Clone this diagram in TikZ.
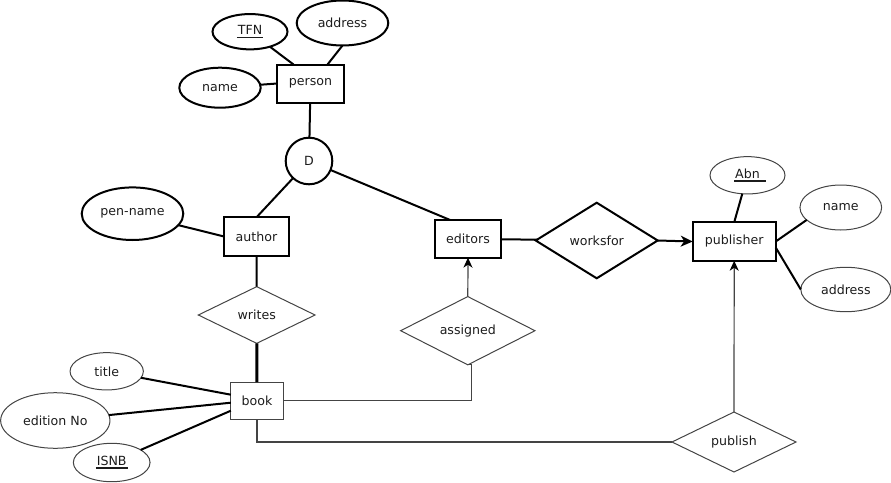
\documentclass[tikz,border=0pt]{standalone}
\usepackage{fontspec}
\setmainfont{DejaVu Sans}
\usetikzlibrary{shapes.geometric,arrows.meta}
\definecolor{txt}{HTML}{1C1C1C}
\definecolor{thinc}{HTML}{444444}
\newsavebox\keybox
\newcommand\keyattr[2][0pt]{\sbox\keybox{#2}\rlap{\usebox\keybox}\hspace*{-1pt}\rule[-4pt]{\dimexpr\wd\keybox+2pt+#1\relax}{1.7pt}\hspace*{\dimexpr-1pt-#1\relax}}
\tikzset{
  every node/.style={font=\fontsize{12.6}{15}\selectfont, text=txt, inner sep=0pt, outer sep=0pt},
  ent/.style={draw=black, line width=2pt, rectangle},
  entthin/.style={draw=thinc, line width=1pt, rectangle},
  attr/.style={draw=black, line width=2pt, ellipse},
  attrthin/.style={draw=thinc, line width=1pt, ellipse},
  rel/.style={draw=black, line width=2pt, diamond},
  relthin/.style={draw=thinc, line width=1pt, diamond},
  thickln/.style={draw=black, line width=2pt},
  thinln/.style={draw=thinc, line width=1.2pt},
  thinarr/.style={draw=thinc, line width=1.2pt, -{Stealth[length=10pt,width=9pt,inset=3pt,color=black]}},
  thickarr/.style={draw=black, line width=2pt, -{Stealth[length=12pt,width=11pt,inset=3.5pt]}},
}
\begin{document}
\begin{tikzpicture}[x=1pt,y=-1pt]
\useasboundingbox (0,0) rectangle (891,482);
% entities
\node[ent, minimum width=66.7, minimum height=38] (person) at (310.5,83.5) {person};
\node[ent, minimum width=65, minimum height=38.4] (author) at (256.5,236.5) {author};
\node[ent, minimum width=66, minimum height=37.7] (editors) at (468,238.8) {editors};
\node[ent, minimum width=83, minimum height=38.4] (publisher) at (734.2,241.5) {publisher};
\node[entthin, minimum width=52.3, minimum height=37.3] (book) at (257,400.7) {book};
% attributes
\node[attr, minimum width=75, minimum height=35.3] (tfn) at (250,31.7) {\keyattr{TFN}};
\node[attr, minimum width=91.6, minimum height=45] (address) at (342.5,23) {address};
\node[attr, minimum width=81.4, minimum height=40] (name) at (220,87.7) {name};
\node[draw=black, line width=2pt, circle, minimum size=46.6] (D) at (309,161) {D};
\node[attr, minimum width=101.6, minimum height=52.6] (penname) at (132.5,213.7) {pen-name};
\node[attrthin, minimum width=73.3, minimum height=37.3] (title) at (106.7,371.3) {title};
\node[attrthin, minimum width=109.3, minimum height=55.6] (edition) at (55.3,420.5) {edition No};
\node[attrthin, minimum width=76.7, minimum height=38.4] (isnb) at (111.7,462.5) {\keyattr{ISNB}};
\node[attrthin, minimum width=75, minimum height=37.3] (abn) at (747.5,175.3) {\keyattr[5pt]{Abn}};
\node[attrthin, minimum width=81.7, minimum height=45] (pname) at (840.8,207.5) {name};
\node[attrthin, minimum width=90, minimum height=44.4] (paddress) at (845.8,289.5) {address};
% relationships
\node[rel, minimum width=122, minimum height=75.6] (worksfor) at (596.7,240.5) {worksfor};
\node[relthin, minimum width=116.7, minimum height=56.7] (writes) at (256.7,315) {writes};
\node[relthin, minimum width=134.3, minimum height=66.7] (assigned) at (467.8,330.7) {assigned};
\node[relthin, minimum width=124, minimum height=60] (publish) at (734,442) {publish};
% connectors
\draw[thickln] (tfn) -- ([xshift=-17]person.north);
\draw[thickln] (address.south) -- ([xshift=17]person.north);
\draw[thickln] (name) -- (person.west);
\draw[thickln] (person) -- (D);
\draw[thickln] (D) -- (author.north);
\draw[thickln] (D) -- ([xshift=-18]editors.north);
\draw[thickln] (penname) -- (author.west);
\draw[thickln] (author) -- (writes);
\draw[draw=black, line width=3pt] (writes) -- (book);
\draw[thickln] (title) -- ([yshift=6]book.west);
\draw[thickln] (edition) -- ([yshift=-2]book.west);
\draw[thickln] (isnb) -- ([yshift=-10]book.west);
\draw[thinln] (book.east) -| ([xshift=4]assigned.south) -- (assigned.south);
\draw[thinarr] (assigned.north) -- (editors.south);
\draw[thinln] (book.south) |- (publish.west);
\draw[thinarr] (publish.north) -- (publisher.south);
\draw[thickln] (editors) -- (worksfor);
\draw[thickarr] (worksfor.east) -- (publisher.west);
\draw[thickln] (abn) -- (publisher.north);
\draw[thickln] (publisher.east) -- (pname.200);
\draw[thickln] ([yshift=-6]publisher.east) -- (paddress.west);
\end{tikzpicture}
\end{document}
